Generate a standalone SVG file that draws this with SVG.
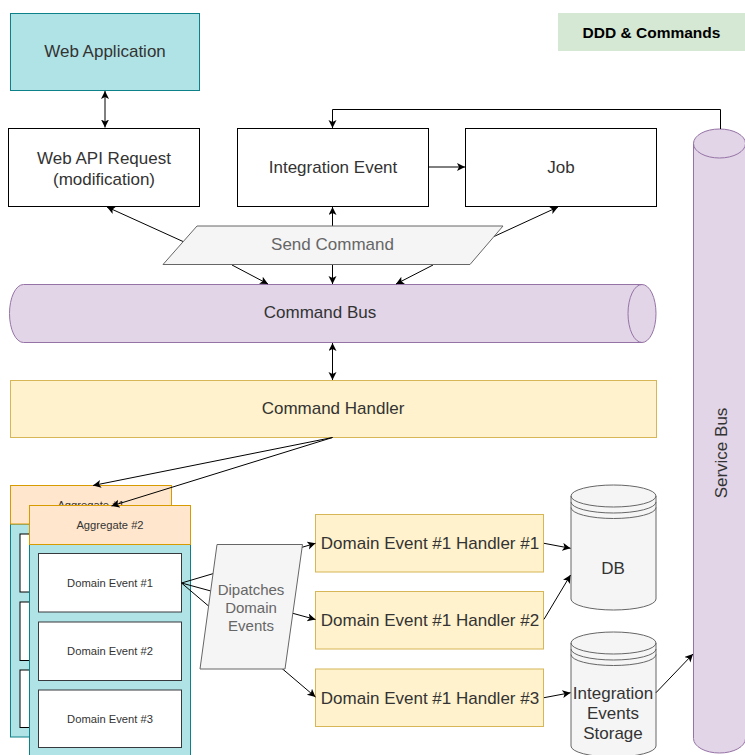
<svg xmlns="http://www.w3.org/2000/svg" width="745" height="755" viewBox="0 0 745 755">
<defs>
<marker id="arr" markerWidth="10" markerHeight="10" refX="8" refY="4" orient="auto-start-reverse" markerUnits="userSpaceOnUse"><path d="M0,0 L8,4 L0,8 L2,4 Z" fill="#000"/></marker>
<style>
text{font-family:"Liberation Sans",Arial,sans-serif;fill:#333;text-anchor:middle}
.t17{font-size:17px}
.t11{font-size:11.2px}
.t15{font-size:15px}
.gray{fill:#666}
.cn{fill:none;stroke:#000;stroke-width:1}
.white{fill:#fff;stroke:#000;stroke-width:1}
.teal{fill:#b0e3e6;stroke:#0e8088;stroke-width:1}
.yel{fill:#fff2cc;stroke:#d6b656;stroke-width:1}
.org{fill:#ffe6cc;stroke:#d79b00;stroke-width:1}
.purp{fill:#e1d5e7;stroke:#9673a6;stroke-width:1}
.lg{fill:#f5f5f5;stroke:#666;stroke-width:1}
.de{fill:#fff;stroke:#36393d;stroke-width:1}
</style>
</defs>
<rect width="745" height="755" fill="#fff"/>

<g id="title"><rect x="558" y="13" width="187" height="38" fill="#d5e8d4"/><text x="651.5" y="37.5" style="font-size:15.5px;font-weight:bold;fill:#000">DDD &amp; Commands</text></g>

<g id="web-application"><rect class="teal" x="10.5" y="13.5" width="189" height="77"/><text class="t17" x="105" y="57">Web Application</text></g>

<g id="web-api-request"><rect class="white" x="8.5" y="128.5" width="191" height="78"/><text class="t17" x="104" y="163.5">Web API Request</text><text class="t17" x="104" y="184.5">(modification)</text></g>

<g id="integration-event"><rect class="white" x="237.5" y="128.5" width="191" height="78"/><text class="t17" x="333" y="173">Integration Event</text></g>

<g id="job"><rect class="white" x="465.5" y="128.5" width="191" height="78"/><text class="t17" x="561" y="173">Job</text></g>

<g id="service-bus"><path class="purp" d="M693.5,143.5 A26,14.5 0 0 1 745.5,143.5 V738.5 A26,14.5 0 0 1 693.5,738.5 Z"/><path d="M693.5,143.5 A26,14.5 0 0 0 745.5,143.5" fill="none" stroke="#9673a6"/><text class="t17" x="721" y="459" transform="rotate(-90 721 453)">Service Bus</text></g>

<g id="command-bus"><path class="purp" d="M23.5,284.5 H642 A14,29 0 0 1 642,342.5 H23.5 A14,29 0 0 1 23.5,284.5 Z"/><path d="M642,284.5 A14,29 0 0 0 642,342.5" fill="none" stroke="#9673a6"/><text class="t17" x="320" y="318">Command Bus</text></g>

<g id="command-handler"><rect class="yel" x="10.5" y="380.5" width="646" height="57"/><text class="t17" x="333" y="414">Command Handler</text></g>

<g id="aggregate-1"><rect class="teal" x="10.5" y="524" width="162" height="213"/><rect class="org" x="10.5" y="485.5" width="161" height="38.5"/><text class="t11" x="91" y="509">Aggregate #1</text><rect x="20" y="534" width="142" height="58" fill="#fff" stroke="#000"/><rect x="20" y="602" width="142" height="58.5" fill="#fff" stroke="#000"/><rect x="20" y="670" width="142" height="57.5" fill="#fff" stroke="#000"/></g>

<g id="aggregate-2"><rect class="teal" x="29.5" y="544.5" width="161" height="215"/><rect class="org" x="29.5" y="505.5" width="161" height="39"/><text class="t11" x="110" y="529">Aggregate #2</text></g>

<g id="domain-event-1"><rect class="de" x="38.5" y="553.5" width="143" height="58.5"/><text class="t11" x="110" y="587">Domain Event #1</text></g>
<g id="domain-event-2"><rect class="de" x="38.5" y="622" width="143" height="58.5"/><text class="t11" x="110" y="655">Domain Event #2</text></g>
<g id="domain-event-3"><rect class="de" x="38.5" y="690" width="143" height="57.5"/><text class="t11" x="110" y="723">Domain Event #3</text></g>

<g id="handler-1"><rect class="yel" x="315.5" y="514.5" width="228" height="57.5"/><text class="t17" x="430" y="549">Domain Event #1 Handler #1</text></g>
<g id="handler-2"><rect class="yel" x="315.5" y="591.5" width="228" height="57.5"/><text class="t17" x="430" y="626">Domain Event #1 Handler #2</text></g>
<g id="handler-3"><rect class="yel" x="315.5" y="669" width="228" height="57.5"/><text class="t17" x="430" y="703.5">Domain Event #1 Handler #3</text></g>

<g id="db"><path class="lg" d="M571,496 A42.5,11 0 0 1 656,496 V599 A42.5,11 0 0 1 571,599 Z"/><path d="M571,496 A42.5,11 0 0 0 656,496 M571,502 A42.5,11 0 0 0 656,502 M571,507.5 A42.5,11 0 0 0 656,507.5" fill="none" stroke="#666"/><text class="t17" x="613" y="574">DB</text></g>

<g id="integration-events-storage"><path class="lg" d="M571,643 A42.5,11 0 0 1 656,643 V746 A42.5,11 0 0 1 571,746 Z"/><path d="M571,643 A42.5,11 0 0 0 656,643 M571,649 A42.5,11 0 0 0 656,649 M571,654.5 A42.5,11 0 0 0 656,654.5" fill="none" stroke="#666"/><text class="t17" x="613" y="699">Integration</text><text class="t17" x="613" y="719">Events</text><text class="t17" x="613" y="739">Storage</text></g>

<g id="connectors">
<line class="cn" x1="105" y1="91" x2="105" y2="127.5" marker-start="url(#arr)" marker-end="url(#arr)"/>
<line class="cn" x1="428.5" y1="167" x2="465" y2="167" marker-end="url(#arr)"/>
<polyline class="cn" points="720.5,129 720.5,109.5 332.5,109.5 332.5,128" marker-end="url(#arr)" stroke="#444"/>
<line class="cn" x1="183" y1="241.5" x2="107" y2="207" marker-end="url(#arr)"/>
<line class="cn" x1="332.5" y1="226" x2="332.5" y2="207" marker-end="url(#arr)"/>
<line class="cn" x1="494" y1="236.5" x2="558" y2="207" marker-end="url(#arr)"/>
<line class="cn" x1="232" y1="265" x2="268" y2="284" marker-end="url(#arr)"/>
<line class="cn" x1="332.5" y1="265" x2="332.5" y2="284" marker-end="url(#arr)"/>
<line class="cn" x1="433" y1="265" x2="396" y2="284" marker-end="url(#arr)"/>
<line class="cn" x1="332.5" y1="343" x2="332.5" y2="380" marker-start="url(#arr)" marker-end="url(#arr)"/>
<line class="cn" x1="332.5" y1="437.5" x2="93" y2="485.5" marker-end="url(#arr)"/>
<line class="cn" x1="332.5" y1="437.5" x2="111.5" y2="506" marker-end="url(#arr)"/>
<line class="cn" x1="181.5" y1="583" x2="315.5" y2="543.3" marker-end="url(#arr)"/>
<line class="cn" x1="181.5" y1="583" x2="315.5" y2="619.5" marker-end="url(#arr)"/>
<line class="cn" x1="181.5" y1="583" x2="315.5" y2="697" marker-end="url(#arr)"/>
<line class="cn" x1="544" y1="543.3" x2="570.5" y2="548.3" marker-end="url(#arr)"/>
<line class="cn" x1="544" y1="619.3" x2="570.5" y2="575" marker-end="url(#arr)"/>
<line class="cn" x1="544" y1="697.7" x2="570.5" y2="692.7" marker-end="url(#arr)"/>
<line class="cn" x1="656" y1="692.7" x2="693" y2="654" marker-end="url(#arr)"/>
</g>

<g id="send-command"><polygon class="lg" points="197,226 503,226 470,264.5 163,264.5"/><text class="t17 gray" x="332.5" y="250">Send Command</text></g>

<g id="dispatches-domain-events"><polygon class="lg" points="217,544.5 302.5,544.5 285,669 200,669"/><text class="t15 gray" x="251" y="595">Dipatches</text><text class="t15 gray" x="251" y="612.5">Domain</text><text class="t15 gray" x="251" y="630.5">Events</text></g>
</svg>
